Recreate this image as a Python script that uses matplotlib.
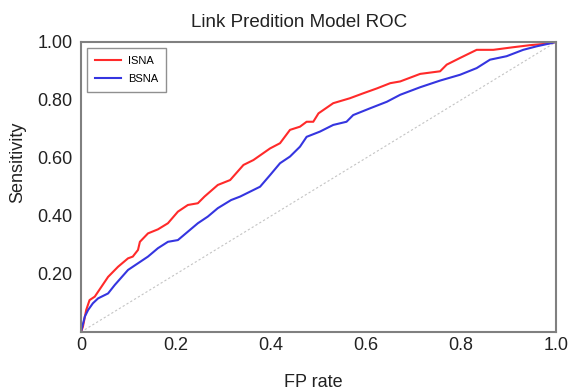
import numpy as np
import matplotlib.pyplot as plt

plt.rcParams['font.family'] = ['Liberation Sans', 'DejaVu Sans']

# ROC points
isna_fpr = [0, 0.004, 0.011, 0.018, 0.029, 0.043, 0.057, 0.078, 0.099, 0.109, 0.12, 0.124,
            0.141, 0.162, 0.183, 0.204, 0.225, 0.246, 0.26, 0.288, 0.314, 0.342, 0.363,
            0.398, 0.419, 0.44, 0.461, 0.475, 0.489, 0.50, 0.531, 0.566, 0.594, 0.623,
            0.651, 0.672, 0.714, 0.756, 0.77, 0.798, 0.833, 0.868, 0.91, 0.945, 0.98, 1.0]
isna_tpr = [0, 0.018, 0.076, 0.11, 0.122, 0.156, 0.19, 0.225, 0.254, 0.26, 0.283, 0.311,
            0.34, 0.354, 0.375, 0.415, 0.438, 0.444, 0.467, 0.507, 0.524, 0.576, 0.593,
            0.633, 0.651, 0.697, 0.708, 0.725, 0.725, 0.754, 0.789, 0.806, 0.823, 0.84,
            0.858, 0.864, 0.89, 0.899, 0.922, 0.945, 0.973, 0.973, 0.982, 0.989, 0.994, 1.0]

bsna_fpr = [0, 0.001, 0.008, 0.015, 0.025, 0.036, 0.057, 0.071, 0.099, 0.12, 0.141, 0.162,
            0.183, 0.204, 0.225, 0.246, 0.267, 0.288, 0.316, 0.335, 0.377, 0.398, 0.419,
            0.44, 0.461, 0.475, 0.503, 0.531, 0.559, 0.573, 0.608, 0.644, 0.672, 0.714,
            0.756, 0.798, 0.833, 0.861, 0.896, 0.931, 0.959, 0.984, 1.0]
bsna_tpr = [0, 0.007, 0.053, 0.076, 0.099, 0.116, 0.133, 0.162, 0.214, 0.237, 0.26, 0.289,
            0.311, 0.317, 0.346, 0.375, 0.398, 0.427, 0.455, 0.467, 0.501, 0.541, 0.582,
            0.605, 0.639, 0.673, 0.691, 0.714, 0.725, 0.748, 0.771, 0.794, 0.818, 0.844,
            0.867, 0.887, 0.91, 0.939, 0.951, 0.973, 0.985, 0.994, 1.0]

fig = plt.figure(figsize=(5.69, 3.91), dpi=100)
ax = fig.add_axes([81/569, 1 - 332/391, 475/569, 290/391])

ax.plot([0, 1], [0, 1], color='#c4c4c4', linestyle='--', linewidth=0.8, dashes=(2, 2))
ax.plot(isna_fpr, isna_tpr, color='#ff2a2a', linewidth=1.5, label='ISNA')
ax.plot(bsna_fpr, bsna_tpr, color='#3535e0', linewidth=1.5, label='BSNA')

ax.set_xlim(0, 1)
ax.set_ylim(0, 1)
ax.set_xticks([0, 0.2, 0.4, 0.6, 0.8, 1.0])
ax.set_xticklabels(['0', '0.2', '0.4', '0.6', '0.8', '1.0'])
ax.set_yticks([0.2, 0.4, 0.6, 0.8, 1.0])
ax.set_yticklabels(['0.20', '0.40', '0.60', '0.80', '1.00'])
ax.tick_params(length=0, labelsize=13, colors='#222222')
ax.tick_params(axis='y', pad=6)
ax.tick_params(axis='x', pad=3.5)

for s in ax.spines.values():
    s.set_color('#808080')
    s.set_linewidth(1.5)

fig.text(299/569, 1 - 27/391, 'Link Predition Model ROC', fontsize=13.5,
         color='#222222', ha='center', va='baseline')
fig.text(313/569, 1 - 387/391, 'FP rate', fontsize=13, color='#222222',
         ha='center', va='baseline')
fig.text(18/569, 1 - 162/391, 'Sensitivity', fontsize=13, color='#222222',
         ha='center', va='center', rotation=90)

leg = ax.legend(loc='upper left', fontsize=8, fancybox=False, framealpha=1,
                handlelength=2.4, handletextpad=0.6, borderpad=0.7, labelspacing=0.75,
                borderaxespad=0, bbox_to_anchor=(6/475, 1 - 6/290))
leg.get_frame().set_edgecolor('#909090')

fig.savefig('out.png', dpi=100)
